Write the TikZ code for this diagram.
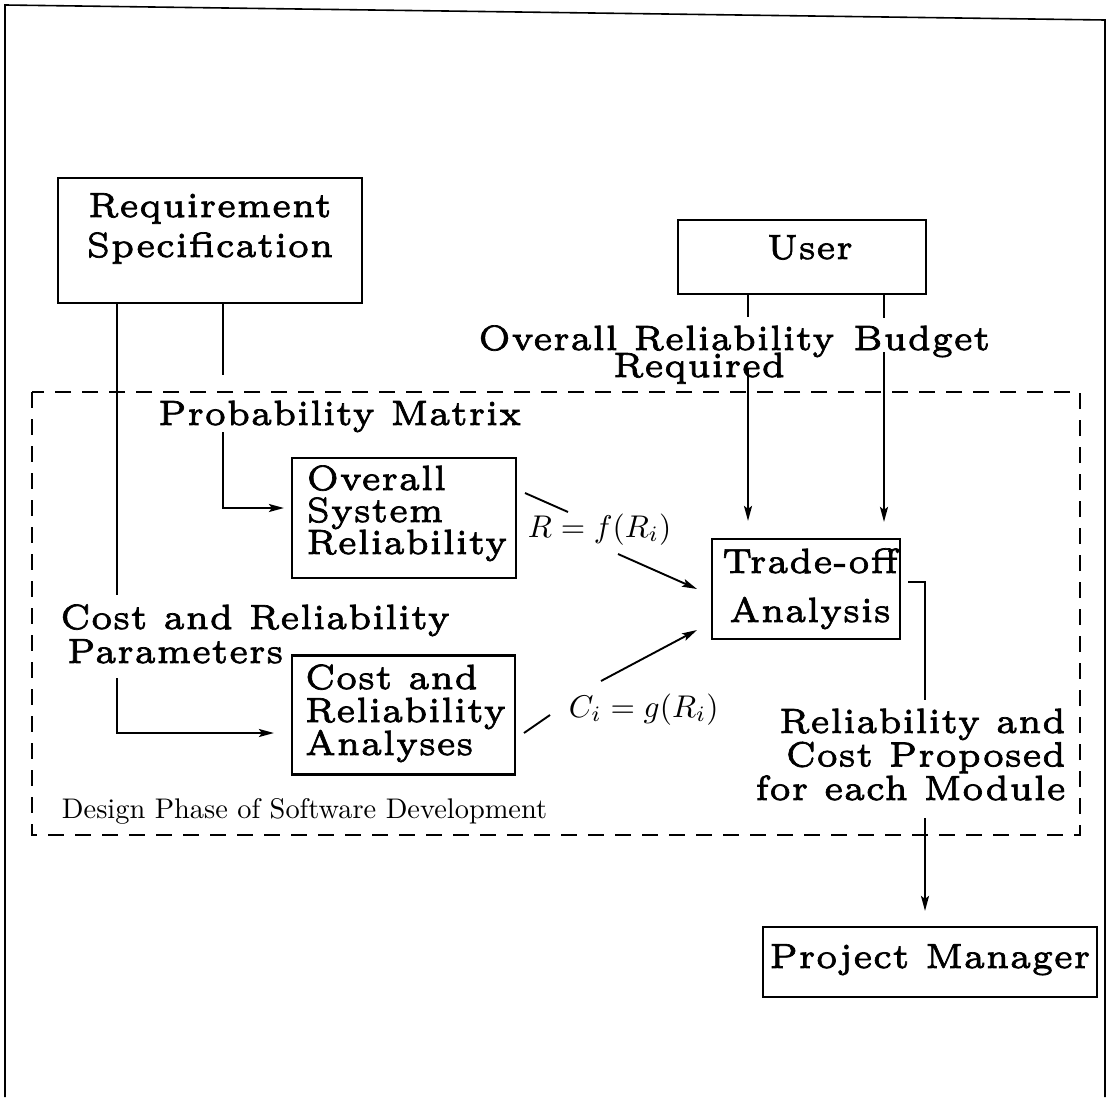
\documentclass[tikz,border=0pt]{standalone}
\usepackage{graphicx}
\usetikzlibrary{arrows.meta}
\font\bigrmfont="[lmroman5-regular]:+tlig;embolden=2" at 5pt
\newcommand\BSc[2]{\scalebox{6.45}[7.0]{\vbox{\bigrmfont\baselineskip=#1pt\lineskiplimit=-100pt\lineskip=0pt\halign{\hfil##\hfil\cr#2\crcr}}}}
\newcommand\BSl[2]{\scalebox{6.45}[7.0]{\vbox{\bigrmfont\baselineskip=#1pt\lineskiplimit=-100pt\lineskip=0pt\halign{##\hfil\cr#2\crcr}}}}
\newcommand\BSr[2]{\scalebox{6.45}[7.0]{\vbox{\bigrmfont\baselineskip=#1pt\lineskiplimit=-100pt\lineskip=0pt\halign{\hfil##\cr#2\crcr}}}}
\tikzset{
  box/.style={draw, line width=2.2pt, inner sep=0pt},
  lab/.style={fill=white, inner xsep=4pt, inner ysep=0pt},
  arr/.style={-{Stealth[length=15pt,width=8pt,inset=3pt]}},
}
\begin{document}
\begin{tikzpicture}[x=1pt, y=-1pt, line width=1.9pt]
\useasboundingbox (0,0) rectangle (1110,1097);
% boxes
\node[box, minimum width=304pt, minimum height=125pt, text height=60pt, text depth=27pt] (req) at (210,240.5) {\BSc{5.71}{Requirement\cr Specification}};
\node[box, minimum width=248pt, minimum height=74pt, text height=20pt, text depth=16pt] (user) at (802,257) {\kern16pt\BSc{6}{User}};
\node[box, minimum width=224pt, minimum height=120pt, text height=82pt, text depth=10pt] (ov) at (404,518) {\kern6pt\BSl{4.57}{Overall\cr System\cr Reliability}};
\node[box, minimum width=223pt, minimum height=119pt, text height=90pt, text depth=10pt] (ca) at (403.5,715) {\kern4pt\BSl{4.71}{Cost and\cr Reliability\cr Analyses}};
\node[box, minimum width=188pt, minimum height=100pt, text height=76pt, text depth=10pt] (tr) at (806,589) {\kern8pt\BSc{7.0}{Trade-off\cr Analysis}};
\node[box, minimum width=334pt, minimum height=70pt, text height=26pt, text depth=14pt] (pm) at (930,962) {\BSc{6}{Project Manager}};
% coordinates
\coordinate (c1) at (223,508);
\coordinate (c2) at (117,733);
\coordinate (u1) at (748,0);
\coordinate (u2) at (884,0);
\coordinate (o1) at (925,582);
\coordinate (fa) at (525,493);
\coordinate (fb) at (568,512);
\coordinate (fc) at (618,554);
\coordinate (fd) at (697,589);
\coordinate (ga) at (524,733);
\coordinate (gb) at (550,715);
\coordinate (gc) at (601,681);
\coordinate (gd) at (697,630);
% connectors
\draw[arr, shorten >=7pt] (req.south -| c1) -- (c1) -- (c1 -| ov.west);
\draw[arr, shorten >=17pt] (req.south -| c2) -- (c2) -- (c2 -| ca.west);
\draw[arr, shorten >=17pt] (u1 |- user.south) -- (u1 |- tr.north);
\draw[arr, shorten >=16pt] (u2 |- user.south) -- (u2 |- tr.north);
\draw[arr, shorten <=7pt, shorten >=15pt] (o1 -| tr.east) -- (o1) -- (o1 |- pm.north);
\draw (fa) -- (fb);
\draw[arr] (fc) -- (fd);
\draw (ga) -- (gb);
\draw[arr] (gc) -- (gd);
% labels
\node[lab, anchor=base west, text height=50pt, text depth=7pt] (pmx) at (153,425) {\BSl{6}{Probability Matrix}};
\node[lab, anchor=base west, text height=33pt, text depth=18pt] (orl) at (473,350) {\BSl{6}{Overall Reliability}};
\node[anchor=base west, inner sep=0pt] (orq) at (612,377) {\BSl{6}{Required}};
\node[lab, anchor=base west, text height=32pt, text depth=2pt] (bud) at (848,350) {\BSl{6}{Budget}};
\node[lab, anchor=base west, text height=34pt, text depth=8pt] (crp) at (55,629) {\BSl{6}{Cost and Reliability}};
\node[lab, anchor=base west, text height=26pt, text depth=15pt] (par) at (62,663) {\BSl{6}{Parameters}};
\node[lab, anchor=base east, text height=100pt, text depth=18pt] (rcp) at (1071,800) {\BSr{4.79}{Reliability and\cr Cost Proposed\cr for each Module}};
\node[anchor=base west, inner sep=0pt] (dp) at (61,818) {\scalebox{2.84}{\fontsize{10}{12}\selectfont Design Phase of Software Development}};
\node[anchor=base west, inner sep=0pt] (fl) at (527,537) {\scalebox{3.14}{$R=f(R_i)$}};
\node[anchor=base west, inner sep=0pt] (gl) at (568,717) {\scalebox{3.14}{$C_i=g(R_i)$}};
% dashed region and frame
\draw[dash pattern=on 16pt off 11pt] (32,392) rectangle (1080,835);
\draw[line width=1.6pt] (5,1097) -- (5,5) -- (1105,20) -- (1105,1097);
\end{tikzpicture}
\end{document}
